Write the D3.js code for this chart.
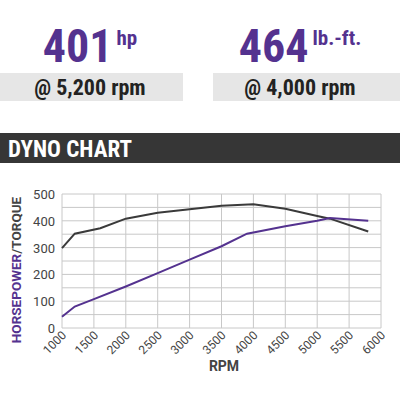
<!DOCTYPE html>
<html><head><meta charset="utf-8">
<script src="https://cdn.jsdelivr.net/npm/d3@7"></script>
<style>body{margin:0;background:#fff}svg{display:block}</style>
</head><body>
<div id="chart"></div>
<script>
const rpmTicks = [1000, 1500, 2000, 2500, 3000, 3500, 4000, 4500, 5000, 5500, 6000]
const yTicks = [0, 100, 200, 300, 400, 500]
const torqueRpm = [1000, 1200, 1600, 2000, 2500, 3000, 3500, 4000, 4500, 5000, 5200, 5800]
const torqueVal = [298, 352, 372, 408, 430, 443, 456, 462, 445, 418, 408, 360]
const hpRpm = [1000, 1200, 1500, 2000, 2500, 3000, 3500, 3900, 4500, 5000, 5200, 5800]
const hpVal = [42, 80, 108, 155, 205, 255, 305, 352, 380, 400, 410, 400]

const purple = '#54328f'
const dark = '#3a3a3a'
const font = '"Roboto Condensed", "Liberation Sans Narrow", Roboto, sans-serif'
const axisFont = 'Roboto, "Liberation Sans", sans-serif'

const svg = d3.select('#chart').append('svg')
    .attr('width', 400).attr('height', 400)
    .style('font-family', font)

// Header stats
const stats = [
    {num: '401', unit: 'hp', sub: '@ 5,200 rpm', cx: 90, bx: 0, bw: 183},
    {num: '464', unit: 'lb.-ft.', sub: '@ 4,000 rpm', cx: 300, bx: 213, bw: 187}
]
stats.forEach(s => {
    svg.append('rect').attr('x', s.bx).attr('y', 73).attr('width', s.bw).attr('height', 28).attr('fill', '#e6e6e6')
    const t = svg.append('text').attr('x', s.cx).attr('y', 62).attr('text-anchor', 'middle').attr('fill', purple)
    t.append('tspan').attr('font-size', 46).attr('font-weight', 'bold').text(s.num)
    t.append('tspan').attr('font-size', 21).attr('font-weight', 'bold').attr('dy', -17).attr('dx', 4).text(s.unit)
    svg.append('text').attr('x', s.cx).attr('y', 95).attr('text-anchor', 'middle')
        .attr('font-size', 22).attr('font-weight', 'bold').attr('fill', '#222').text(s.sub)
})

// Section band
svg.append('rect').attr('x', 0).attr('y', 133).attr('width', 400).attr('height', 30).attr('fill', '#363636')
svg.append('text').attr('x', 8).attr('y', 157).attr('fill', '#fff').attr('font-size', 23)
    .attr('font-weight', 'bold').text('DYNO CHART')

// Chart
const x = d3.scaleLinear().domain([1000, 6000]).range([62, 381])
const y = d3.scaleLinear().domain([0, 500]).range([328, 194])

const g = svg.append('g').style('font-family', axisFont)
g.selectAll('.hg').data(d3.range(0, 501, 50)).enter().append('line')
    .attr('x1', x(1000)).attr('x2', x(6000)).attr('y1', d => y(d)).attr('y2', d => y(d))
    .attr('stroke', '#c8c8c8').attr('stroke-width', 1)
g.selectAll('.vg').data(rpmTicks).enter().append('line')
    .attr('x1', d => x(d)).attr('x2', d => x(d)).attr('y1', y(0)).attr('y2', y(500))
    .attr('stroke', '#c8c8c8').attr('stroke-width', 1)

g.selectAll('.yl').data(yTicks).enter().append('text')
    .attr('x', 55).attr('y', d => y(d) + 5).attr('text-anchor', 'end')
    .attr('font-size', 13).attr('fill', '#444').text(d => d)
g.selectAll('.xl').data(rpmTicks).enter().append('text')
    .attr('transform', d => `translate(${x(d) + 5}, ${y(0) + 8}) rotate(-45)`)
    .attr('text-anchor', 'end').attr('font-size', 12).attr('fill', '#444').text(d => d)

const line = d3.line().x(d => x(d[0])).y(d => y(d[1]))
g.append('path').datum(d3.zip(torqueRpm, torqueVal)).attr('d', line)
    .attr('fill', 'none').attr('stroke', dark).attr('stroke-width', 2)
g.append('path').datum(d3.zip(hpRpm, hpVal)).attr('d', line)
    .attr('fill', 'none').attr('stroke', purple).attr('stroke-width', 2)

svg.append('text').attr('x', 224).attr('y', 371).attr('text-anchor', 'middle').style('font-family', axisFont)
    .attr('font-size', 14).attr('font-weight', 'bold').attr('fill', '#444').text('RPM')
const yt = svg.append('text').attr('transform', 'translate(21, 270) rotate(-90)').style('font-family', axisFont)
    .attr('text-anchor', 'middle').attr('font-size', 13.5).attr('font-weight', 'bold')
yt.append('tspan').attr('fill', purple).text('HORSEPOWER')
yt.append('tspan').attr('fill', '#444').text('/TORQUE')
</script>
</body></html>
